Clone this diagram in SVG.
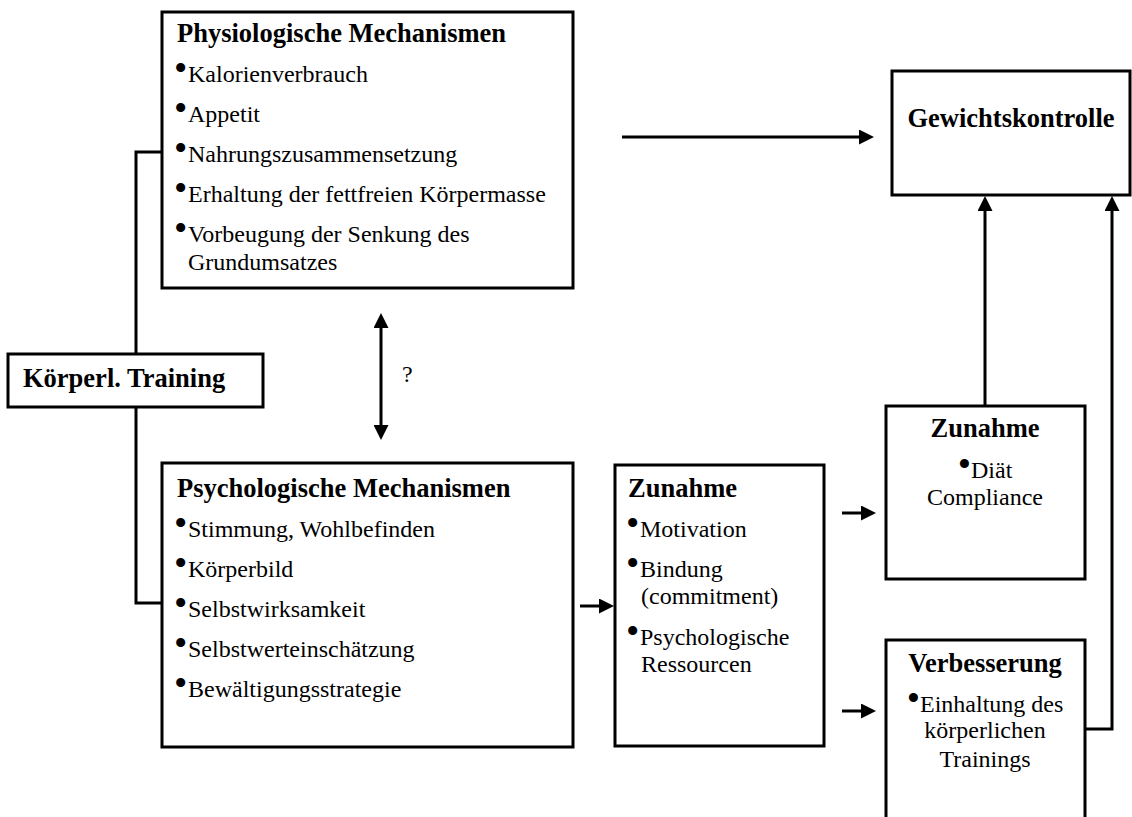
<svg xmlns="http://www.w3.org/2000/svg" width="1132" height="817" viewBox="0 0 1132 817">
<style>
.box{fill:#fff;stroke:#000;stroke-width:3}
.ln{fill:none;stroke:#000;stroke-width:3}
.t{font-family:"Liberation Serif","Times New Roman",serif;font-weight:bold;font-size:26.5px;fill:#000}
.r{font-family:"Liberation Serif","Times New Roman",serif;font-size:24px;fill:#000}
.b{font-size:38px;baseline-shift:1px}
.c{text-anchor:middle}
</style>
<defs>
<marker id="ah" viewBox="0 0 15 15" refX="1" refY="7.5" markerWidth="15" markerHeight="15" markerUnits="userSpaceOnUse" orient="auto-start-reverse">
<path d="M0,0 L15,7.5 L0,15 z" fill="#000"/>
</marker>
</defs>
<rect width="1132" height="817" fill="#fff"/>
<g id="connectors">
<path class="ln" d="M162,152 H136 V354"/>
<path class="ln" d="M136,407 V603 H162"/>
<line class="ln" x1="622" y1="137" x2="860" y2="137" marker-end="url(#ah)"/>
<line class="ln" x1="381" y1="327" x2="381" y2="426" marker-start="url(#ah)" marker-end="url(#ah)"/>
<line class="ln" x1="580" y1="606" x2="600" y2="606" marker-end="url(#ah)"/>
<line class="ln" x1="842" y1="513" x2="862" y2="513" marker-end="url(#ah)"/>
<line class="ln" x1="842" y1="711" x2="862" y2="711" marker-end="url(#ah)"/>
<path class="ln" d="M985,406 V210" marker-end="url(#ah)"/>
<path class="ln" d="M1085,729 H1112 V210" marker-end="url(#ah)"/>
<text class="r" x="402" y="382">?</text>
</g>
<g id="physio">
<rect class="box" x="162" y="12" width="411" height="276"/>
<text class="t" x="177" y="42">Physiologische Mechanismen</text>
<text class="r" x="174" y="82"><tspan class="b">•</tspan><tspan x="188">Kalorienverbrauch</tspan></text>
<text class="r" x="174" y="122"><tspan class="b">•</tspan><tspan x="188">Appetit</tspan></text>
<text class="r" x="174" y="162"><tspan class="b">•</tspan><tspan x="188">Nahrungszusammensetzung</tspan></text>
<text class="r" x="174" y="202"><tspan class="b">•</tspan><tspan x="188">Erhaltung der fettfreien Körpermasse</tspan></text>
<text class="r" x="174" y="242"><tspan class="b">•</tspan><tspan x="188">Vorbeugung der Senkung des</tspan></text>
<text class="r" x="188" y="270">Grundumsatzes</text>
</g>
<g id="training">
<rect class="box" x="8" y="354" width="255" height="53"/>
<text class="t" x="23" y="387">Körperl. Training</text>
</g>
<g id="psycho">
<rect class="box" x="162" y="463" width="411" height="284"/>
<text class="t" x="177" y="497">Psychologische Mechanismen</text>
<text class="r" x="174" y="537"><tspan class="b">•</tspan><tspan x="188">Stimmung, Wohlbefinden</tspan></text>
<text class="r" x="174" y="577"><tspan class="b">•</tspan><tspan x="188">Körperbild</tspan></text>
<text class="r" x="174" y="617"><tspan class="b">•</tspan><tspan x="188">Selbstwirksamkeit</tspan></text>
<text class="r" x="174" y="657"><tspan class="b">•</tspan><tspan x="188">Selbstwerteinschätzung</tspan></text>
<text class="r" x="174" y="697"><tspan class="b">•</tspan><tspan x="188">Bewältigungsstrategie</tspan></text>
</g>
<g id="zunahme1">
<rect class="box" x="615" y="465" width="209" height="281"/>
<text class="t" x="628" y="497">Zunahme</text>
<text class="r" x="626" y="537"><tspan class="b">•</tspan><tspan x="640">Motivation</tspan></text>
<text class="r" x="626" y="577"><tspan class="b">•</tspan><tspan x="640">Bindung</tspan></text>
<text class="r" x="641" y="604">(commitment)</text>
<text class="r" x="626" y="645"><tspan class="b">•</tspan><tspan x="640">Psychologische</tspan></text>
<text class="r" x="641" y="672">Ressourcen</text>
</g>
<g id="gewicht">
<rect class="box" x="892" y="71" width="238" height="124"/>
<text class="t c" x="1011" y="127">Gewichtskontrolle</text>
</g>
<g id="zunahme2">
<rect class="box" x="886" y="406" width="199" height="173"/>
<text class="t c" x="985" y="437">Zunahme</text>
<text class="r c" x="985" y="478"><tspan class="b">•</tspan>Diät</text>
<text class="r c" x="985" y="505">Compliance</text>
</g>
<g id="verbesserung">
<rect class="box" x="886" y="640" width="199" height="190"/>
<text class="t c" x="985" y="672">Verbesserung</text>
<text class="r c" x="985" y="712"><tspan class="b">•</tspan>Einhaltung des</text>
<text class="r c" x="985" y="738">körperlichen</text>
<text class="r c" x="985" y="767">Trainings</text>
</g>
</svg>
